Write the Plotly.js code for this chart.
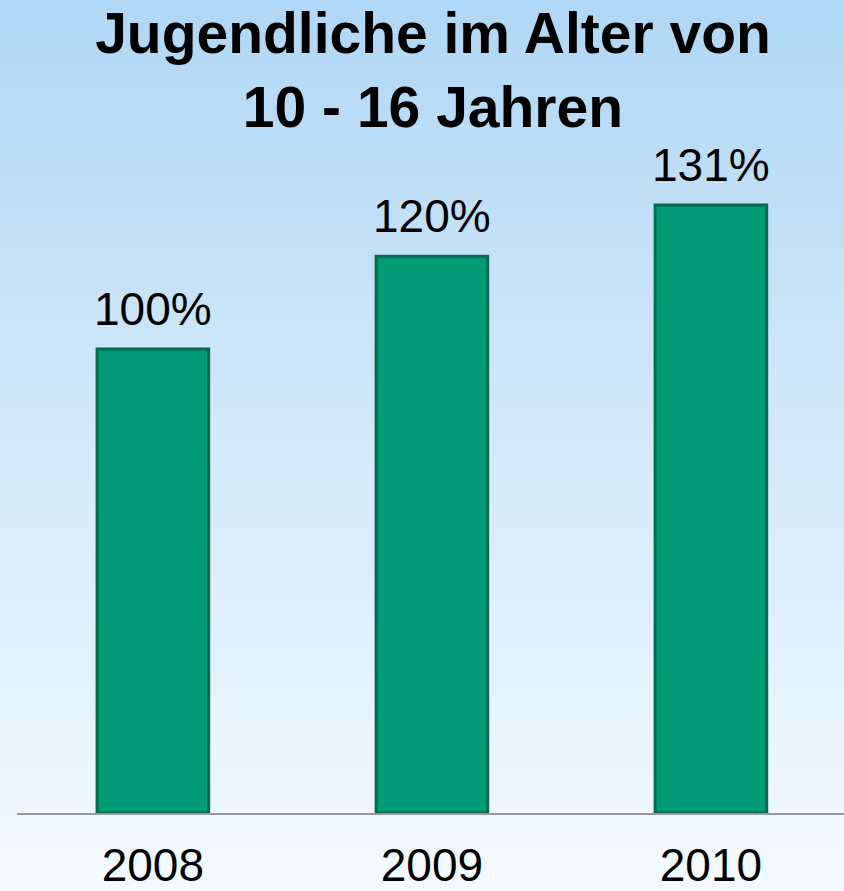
<!DOCTYPE html>
<html>
<head>
<meta charset="utf-8">
<script src="https://cdn.plot.ly/plotly-3.0.1.min.js"></script>
<style>
html,body{margin:0;padding:0;}
body{width:844px;height:891px;background:linear-gradient(to bottom,#b0d7f5 0%,#d4e9f9 50%,#f4faff 100%);}
#chart{width:844px;height:891px;}
</style>
</head>
<body>
<div id="chart"></div>
<script>
const years = ['2008', '2009', '2010'];
const values = [100, 120, 131];
const labels = ['100%', '120%', '131%'];
const titleText = 'Jugendliche im Alter von<br>10 - 16 Jahren';

const font = 'Liberation Sans, Arial, sans-serif';

const trace = {
  type: 'bar',
  x: years,
  y: values,
  width: 0.4,
  marker: {color: '#009b74', line: {color: '#0a6a4f', width: 3}},
  hoverinfo: 'none'
};

// category axis: annotation x given as category index
const annotations = years.map((yr, i) => ({
  x: i, y: values[i], xref: 'x', yref: 'y',
  text: labels[i], showarrow: false,
  yanchor: 'bottom', yshift: 12,
  font: {family: font, size: 46, color: '#000'}
}));

const layout = {
  width: 844, height: 891,
  paper_bgcolor: 'rgba(0,0,0,0)',
  plot_bgcolor: 'rgba(0,0,0,0)',
  margin: {l: 17, r: 0, t: 0, b: 78},
  showlegend: false,
  title: {
    text: titleText,
    font: {family: font, size: 57, color: '#000', weight: 'bold'},
    x: 0.513, xanchor: 'center',
    y: 0.941, yanchor: 'top', yref: 'container'
  },
  xaxis: {
    type: 'category',
    range: [-0.487, 2.477],
    showline: true, linecolor: '#9a9a9a', linewidth: 2,
    ticks: '', showgrid: false, zeroline: false,
    ticklabelstandoff: 11,
    tickfont: {family: font, size: 46, color: '#000'}
  },
  yaxis: {
    range: [0, 175.2],
    showticklabels: false, showline: false, ticks: '',
    showgrid: false, zeroline: false
  },
  annotations: annotations
};

Plotly.newPlot('chart', [trace], layout, {displayModeBar: false, staticPlot: true});
</script>
</body>
</html>
